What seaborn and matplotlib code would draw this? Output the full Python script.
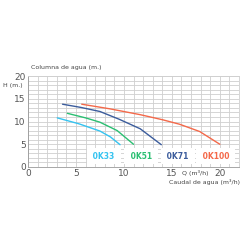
import matplotlib
matplotlib.use("Agg")
import matplotlib.pyplot as plt
import pandas as pd
import seaborn as sns

# pump curves: flow Q (m3/h) vs head H (m)
q_ok33 = [3.05, 5.3, 7.5, 8.6, 9.6]
h_ok33 = [10.8, 9.5, 7.9, 6.6, 4.9]
q_ok51 = [4.1, 6.0, 7.5, 9.3, 11.0]
h_ok51 = [11.8, 10.8, 9.85, 8.0, 5.0]
q_ok71 = [3.6, 5.5, 7.5, 9.5, 11.7, 13.9]
h_ok71 = [13.8, 13.1, 12.2, 10.5, 8.4, 4.9]
q_ok100 = [5.6, 8.5, 11.7, 14.0, 15.8, 17.9, 20.0]
h_ok100 = [13.8, 12.8, 11.5, 10.4, 9.4, 7.8, 5.0]

models = ["0K33", "0K51", "0K71", "0K100"]
label_x = [7.9, 11.8, 15.6, 19.6]
label_y = 2.4
colors = ["#35c3f0", "#2bbf72", "#3b5c9c", "#f4694a"]
ticks = [0, 5, 10, 15, 20]

frames = []
for name, q, h in zip(models, [q_ok33, q_ok51, q_ok71, q_ok100],
                      [h_ok33, h_ok51, h_ok71, h_ok100]):
    frames.append(pd.DataFrame({"Q": q, "H": h, "model": name}))
df = pd.concat(frames, ignore_index=True)

sns.set_style("white")
fig = plt.figure(figsize=(2.5, 2.5), dpi=100)
ax = fig.add_axes([0.112, 0.332, 0.844, 0.364])

sns.lineplot(data=df, x="Q", y="H", hue="model", palette=colors,
             hue_order=models, sort=False, estimator=None, linewidth=1.0,
             legend=False, ax=ax)

ax.set_xlim(0, 22)
ax.set_ylim(0, 20)
ax.set_xticks(range(0, 23), minor=True)
ax.set_yticks(range(0, 21), minor=True)
ax.set_xticks(ticks)
ax.set_yticks(ticks)
ax.grid(which="both", color="#cfcfcf", linewidth=0.6)
ax.set_axisbelow(True)
ax.tick_params(axis="both", length=0, labelsize=6.5, colors="#555555", pad=1.5)
for side, sp in ax.spines.items():
    sp.set_color("#cfcfcf")
    sp.set_linewidth(0.6)
ax.spines["left"].set_color("#999999")
ax.spines["bottom"].set_color("#999999")
ax.set_xlabel("")
ax.set_ylabel("")

for name, x, c in zip(models, label_x, colors):
    ax.text(x, label_y, " " + name + " ", color=c, fontsize=5.5,
            fontweight="bold", ha="center", va="center",
            bbox=dict(facecolor="white", edgecolor="none", pad=2.5))

fig.text(0.124, 0.732, "Columna de agua (m.)", fontsize=4.5, color="#444444",
         ha="left", va="center")
fig.text(0.092, 0.66, "H (m.)", fontsize=4.5, color="#444444",
         ha="right", va="center")
fig.text(0.78, 0.308, "Q (m³/h)", fontsize=4.5, color="#444444",
         ha="center", va="center")
fig.text(0.96, 0.272, "Caudal de agua (m³/h)", fontsize=4.5, color="#444444",
         ha="right", va="center")

fig.savefig("out.png", dpi=100)
